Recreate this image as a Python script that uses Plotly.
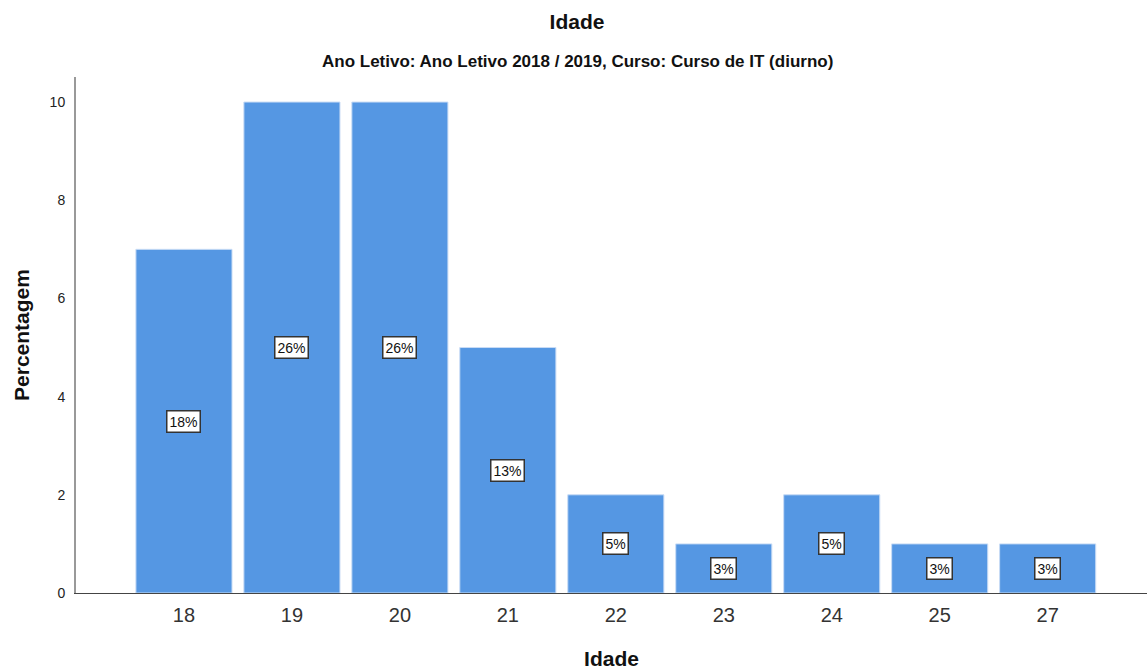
import plotly.graph_objects as go

categories = ["18", "19", "20", "21", "22", "23", "24", "25", "27"]
values = [7, 10, 10, 5, 2, 1, 2, 1, 1]
pct_labels = ["18%", "26%", "26%", "13%", "5%", "3%", "5%", "3%", "3%"]
y_ticks = [0, 2, 4, 6, 8, 10]

BAR = "#5597e3"
FONT = "Liberation Sans, Arial, sans-serif"

fig = go.Figure()
fig.add_trace(go.Bar(
    x=categories, y=values,
    marker=dict(color=BAR, line=dict(color="#c9dcf5", width=1)),
    width=0.89, hoverinfo="skip",
))

for i, (v, t) in enumerate(zip(values, pct_labels)):
    fig.add_annotation(
        x=i, y=v / 2, xref="x", yref="y", text=t, showarrow=False,
        font=dict(family=FONT, size=14, color="#111"),
        bgcolor="white", bordercolor="#333", borderwidth=1.5, borderpad=2,
    )

fig.update_layout(
    width=1147, height=670,
    margin=dict(l=76, r=0, t=77, b=77),
    paper_bgcolor="white", plot_bgcolor="white",
    showlegend=False,
    font=dict(family=FONT, color="#222"),
    title=dict(
        text="<b>Idade</b>", x=(577 - 76) / 1071, xref="paper", xanchor="center",
        y=1 - 22 / 670, yanchor="middle",
        font=dict(size=21, color="#111"),
    ),
    xaxis=dict(
        type="category", range=[-1, 8.92], automargin=False,
        showline=True, linecolor="#444", linewidth=1,
        ticks="", showgrid=False, zeroline=False,
        tickfont=dict(size=20, color="#333"), ticklabelstandoff=4,
        title=dict(text="<b>Idade</b>", font=dict(size=21, color="#111"), standoff=26),
    ),
    yaxis=dict(
        range=[0, 10.51], tickvals=y_ticks, automargin=False,
        showline=True, linecolor="#999", linewidth=2,
        ticks="", showgrid=False, zeroline=False,
        tickfont=dict(size=14, color="#222"), ticklabelstandoff=6,
        title=dict(text="<b>Percentagem</b>", font=dict(size=21, color="#111"), standoff=14),
    ),
)

fig.add_annotation(
    text="<b>Ano Letivo: Ano Letivo 2018 / 2019, Curso: Curso de IT (diurno)</b>",
    xref="paper", yref="paper", x=(577 - 76) / 1071, y=1 + (77 - 62) / 516,
    xanchor="center", yanchor="middle", showarrow=False,
    font=dict(family=FONT, size=17, color="#111"),
)

fig.write_html("out.html", config={"displayModeBar": False},
               post_script="document.body.style.margin='0';")
